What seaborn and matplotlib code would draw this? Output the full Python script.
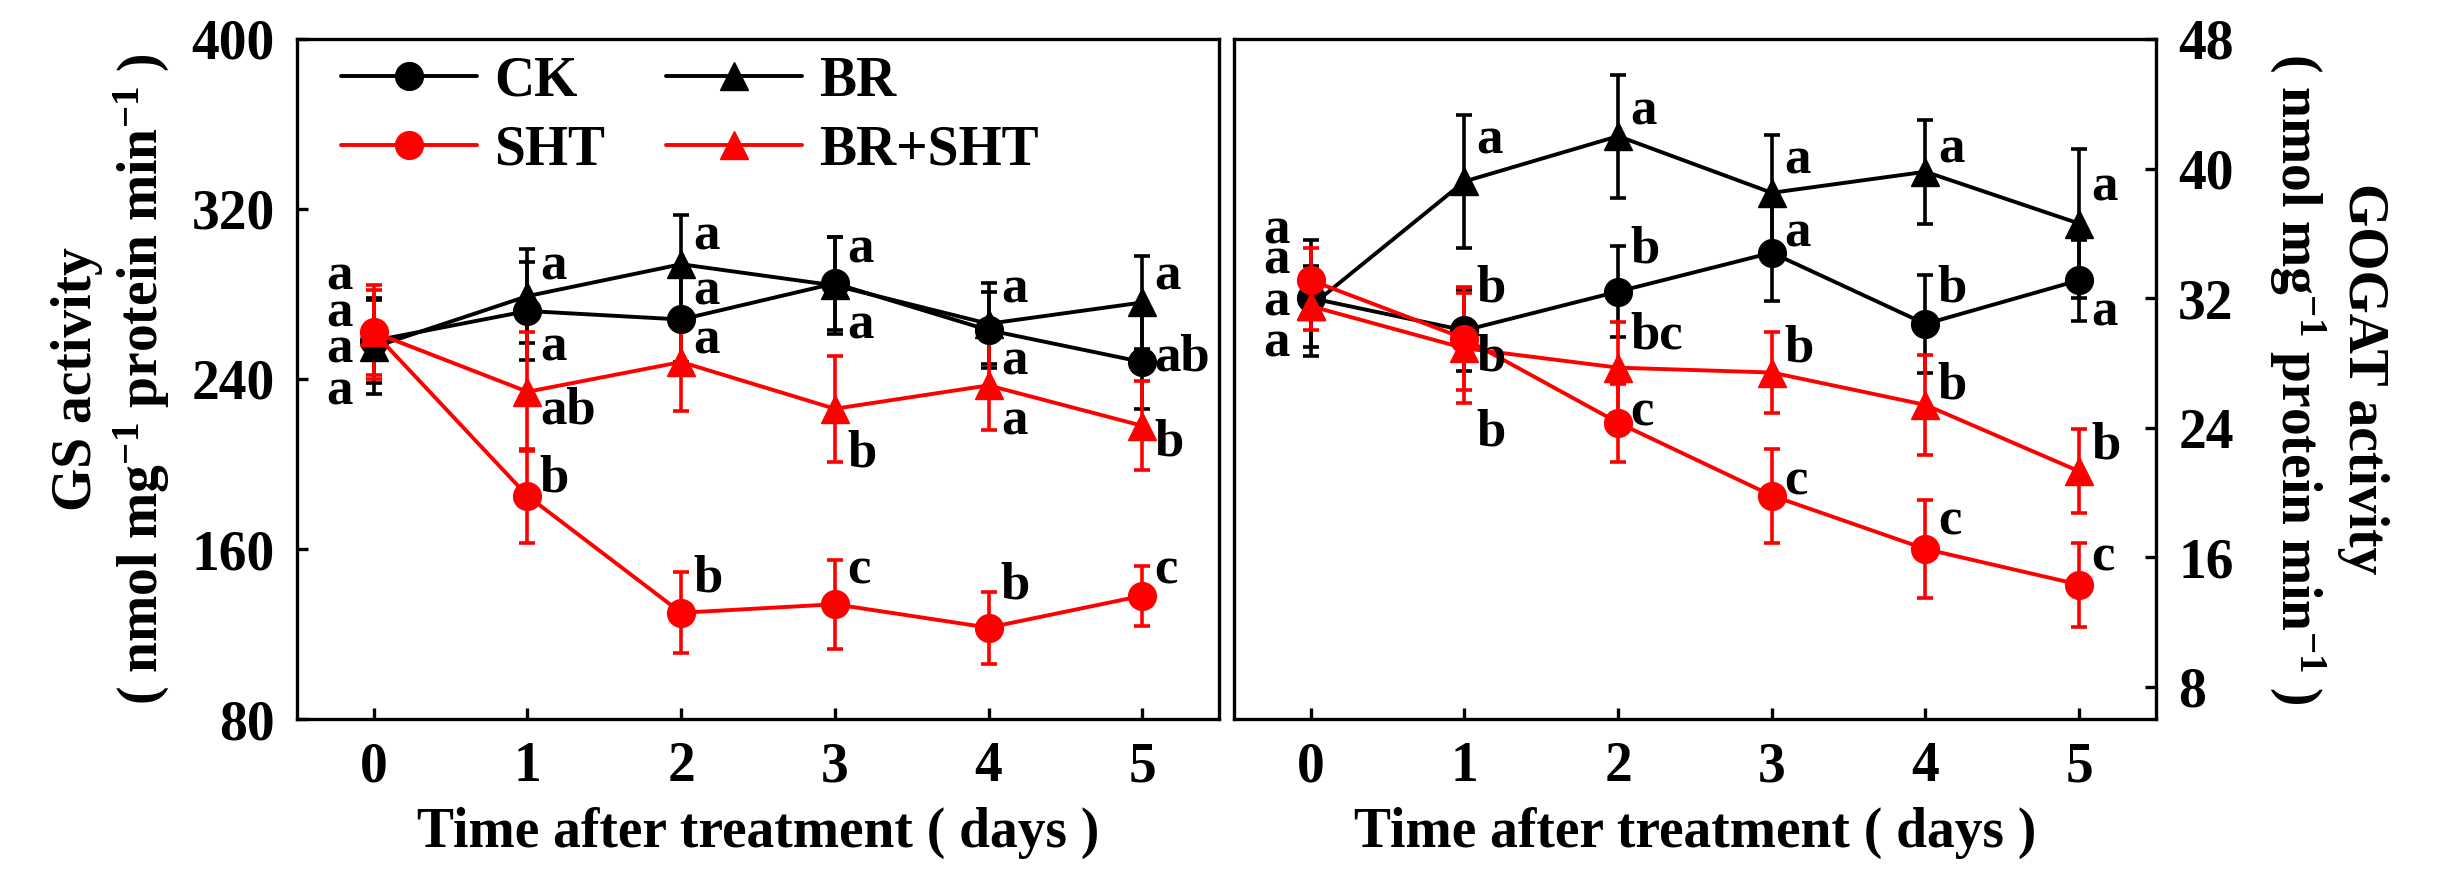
import numpy as np
import pandas as pd
import matplotlib
matplotlib.use('Agg')
import matplotlib.pyplot as plt
import seaborn as sns

days = [0, 1, 2, 3, 4, 5]
groups = ['CK', 'BR', 'SHT', 'BR+SHT']
colors = {'CK': 'black', 'BR': 'black', 'SHT': '#ff0000', 'BR+SHT': '#ff0000'}
markers = {'CK': 'o', 'BR': '^', 'SHT': 'o', 'BR+SHT': '^'}

# GS activity (left panel)
gs_ck = [258, 272, 268, 285, 263, 248]
gs_ck_err = [20, 23, 20, 22, 18, 22]
gs_br = [255, 279, 294, 284, 266, 276]
gs_br_err = [22, 22, 23, 23, 19, 22]
gs_sht = [262, 185, 130, 134, 123, 138]
gs_sht_err = [22, 22, 19, 21, 17, 14]
gs_brsht = [262, 234, 248, 226, 237, 218]
gs_brsht_err = [20, 28, 23, 25, 21, 21]

# GOGAT activity (right panel)
go_ck = [32.0, 30.0, 32.4, 34.8, 30.4, 33.1]
go_ck_err = [3.6, 2.5, 2.8, 3.0, 3.0, 2.5]
go_br = [31.5, 39.2, 42.0, 38.5, 39.8, 36.6]
go_br_err = [2.5, 4.1, 3.8, 3.6, 3.2, 4.6]
go_sht = [33.1, 29.5, 24.3, 19.8, 16.5, 14.3]
go_sht_err = [2.0, 3.2, 2.4, 2.9, 3.0, 2.6]
go_brsht = [31.5, 28.9, 27.7, 27.4, 25.4, 21.3]
go_brsht_err = [1.5, 3.4, 2.8, 2.5, 3.1, 2.6]

# significance letters: text and y position for each day
gs_letters = [['a', 'a', 'a', 'a'], ['a', 'a', 'ab', 'b'], ['a', 'a', 'a', 'b'],
              ['a', 'a', 'b', 'c'], ['a', 'a', 'a', 'b'], ['a', 'ab', 'b', 'c']]
gs_letter_y = [[288, 271, 254, 234], [293, 255, 225, 193], [307, 281, 258, 146],
               [301, 265, 205, 150], [282, 248, 220, 143], [288, 250, 210, 150]]
go_letters = [['a', 'a', 'a', 'a'], ['a', 'b', 'b', 'b'], ['a', 'b', 'bc', 'c'],
              ['a', 'a', 'b', 'c'], ['a', 'b', 'b', 'c'], ['a', 'a', 'b', 'c']]
go_letter_y = [[36.2, 34.3, 31.7, 29.2], [41.7, 32.6, 28.3, 23.7], [43.5, 35.0, 29.7, 24.9],
               [40.5, 36.0, 28.9, 20.7], [41.2, 32.6, 26.6, 18.2], [38.8, 31.1, 22.9, 16.0]]

sns.set_style('ticks')
plt.rcParams['font.family'] = ['Liberation Serif', 'DejaVu Serif']
plt.rcParams['font.weight'] = 'bold'
plt.rcParams['text.color'] = 'black'
plt.rcParams['axes.labelcolor'] = 'black'
plt.rcParams['xtick.color'] = 'black'
plt.rcParams['ytick.color'] = 'black'
plt.rcParams['mathtext.fontset'] = 'custom'
plt.rcParams['mathtext.rm'] = 'Liberation Serif:bold'
plt.rcParams['mathtext.it'] = 'Liberation Serif:bold'
plt.rcParams['mathtext.bf'] = 'Liberation Serif:bold'
plt.rcParams['mathtext.default'] = 'rm'

FS = 40

fig = plt.figure(figsize=(24.4, 8.88), dpi=100)
ax1 = fig.add_axes([0.1217, 0.1903, 0.3779, 0.7658])
ax2 = fig.add_axes([0.5057, 0.1903, 0.3779, 0.7658])


def draw_panel(ax, series, letters, letter_y):
    for g in groups:
        vals, err = series[g]
        df = pd.DataFrame({'day': days, 'value': vals})
        ax.errorbar(days, vals, yerr=err, fmt='none', ecolor=colors[g],
                    elinewidth=2.6, capsize=6, capthick=2.6, zorder=2)
        sns.lineplot(data=df, x='day', y='value', ax=ax, color=colors[g],
                     marker=markers[g], markersize=20, mec=colors[g], mew=1,
                     linewidth=2.8, label=g, legend=False, zorder=3)
    for i, d in enumerate(days):
        for t, y in zip(letters[i], letter_y[i]):
            if d == 0:
                ax.text(d - 0.14, y, t, ha='right', va='center', fontsize=FS - 2,
                        fontweight='bold', color='black')
            else:
                ax.text(d + 0.08, y, t, ha='left', va='center', fontsize=FS - 2,
                        fontweight='bold', color='black')
    ax.set_xlim(-0.5, 5.5)
    ax.set_xticks(days)
    ax.set_xlabel('Time after treatment ( days )', fontsize=FS, fontweight='bold',
                  labelpad=10)
    ax.tick_params(direction='in', length=8, width=2.4, labelsize=FS, pad=16,
                   colors='black')
    for s in ax.spines.values():
        s.set_visible(True)
        s.set_linewidth(2.4)
        s.set_color('black')


draw_panel(ax1, {'CK': (gs_ck, gs_ck_err), 'BR': (gs_br, gs_br_err),
                 'SHT': (gs_sht, gs_sht_err), 'BR+SHT': (gs_brsht, gs_brsht_err)},
           gs_letters, gs_letter_y)
ax1.set_ylim(80, 400)
ax1.set_yticks([80, 160, 240, 320, 400])
ax1.set_ylabel('GS activity\n( nmol mg$^{-1}$ protein min$^{-1}$ )', fontsize=FS,
               fontweight='bold', labelpad=14, linespacing=1.2)

draw_panel(ax2, {'CK': (go_ck, go_ck_err), 'BR': (go_br, go_br_err),
                 'SHT': (go_sht, go_sht_err), 'BR+SHT': (go_brsht, go_brsht_err)},
           go_letters, go_letter_y)
ax2.set_ylim(6, 48)
ax2.set_yticks([8, 16, 24, 32, 40, 48])
ax2.yaxis.tick_right()
ax2.yaxis.set_label_position('right')
ax2.tick_params(axis='y', direction='in', length=8, width=2.4, labelsize=FS, pad=16)
ax2.set_ylabel('GOGAT activity\n( nmol mg$^{-1}$ protein min$^{-1}$ )', fontsize=FS,
               fontweight='bold', rotation=270, va='bottom', labelpad=24,
               linespacing=1.2)

h, l = ax1.get_legend_handles_labels()
order = [l.index('CK'), l.index('SHT'), l.index('BR'), l.index('BR+SHT')]
ax1.legend([h[i] for i in order], [l[i] for i in order], ncol=2, frameon=False,
           loc='upper left', bbox_to_anchor=(0.03, 1.0), borderaxespad=0.1,
           borderpad=0.2, handlelength=2.45, handletextpad=0.3,
           columnspacing=1.1, labelspacing=0.3, prop={'weight': 'bold', 'size': FS})

fig.savefig('out.png', dpi=100)
